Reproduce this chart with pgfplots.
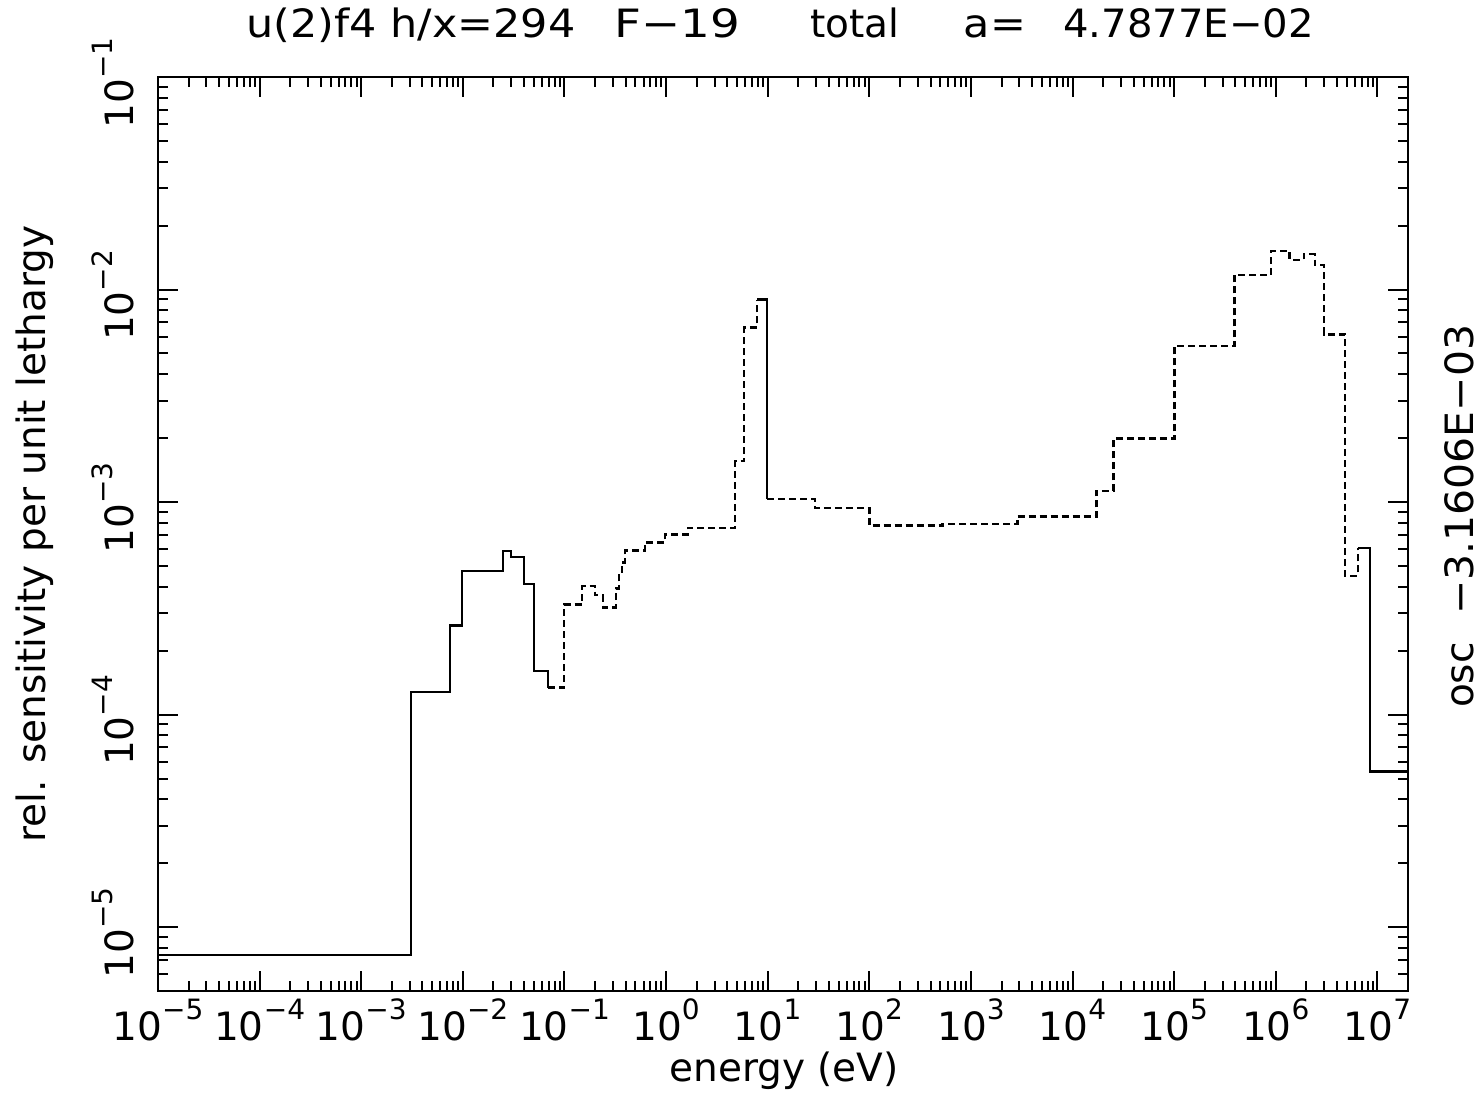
\documentclass[border=0pt]{standalone}
\usepackage{fontspec}
\setmainfont{DejaVu Sans}
\usepackage{pgfplots}
\pgfplotsset{compat=1.18}
\newcommand\expo[1]{\pgfmathtruncatemacro\ee{round(#1)}10\raisebox{10.5pt}{\fontsize{14}{14}\selectfont\ifnum\ee<0 −\number\numexpr-\ee\relax\else\ee\fi}}
\newcommand\bigfont{\fontsize{19.5}{22}\selectfont}
\xdef\minorlist{1e-8}
\foreach \e in {-6,...,7}{\foreach \m in {2,...,9}{\xdef\minorlist{\minorlist,\m e\e}}}
\begin{document}
\begin{tikzpicture}
\begin{axis}[
  scale only axis, width=625pt, height=457pt,
  xmode=log, ymode=log, log basis x=10, log basis y=10,
  xmin=1e-5, xmax=2e7, ymin=5e-6, ymax=1e-1,
  xtick={1e-5,1e-4,1e-3,1e-2,1e-1,1e0,1e1,1e2,1e3,1e4,1e5,1e6,1e7},
  ytick={1e-5,1e-4,1e-3,1e-2,1e-1},
  minor xtick/.expand once={\minorlist},
  minor ytick/.expand once={\minorlist},
  tick align=inside, major tick length=10pt, minor tick length=5pt,
  axis line style={line width=1.2pt},
  every tick/.style={line width=1pt, black},
  tick label style={font=\bigfont},
  xticklabel={\expo{\tick}},
  yticklabel={\expo{\tick}},
  xticklabel style={yshift=-0.5pt},
  yticklabel style={rotate=90, anchor=south, xshift=-3pt, yshift=8.5pt},
]
\addplot[const plot, line width=1.2pt] coordinates {
 (1e-5,7.4e-6) (3.08e-3,1.28e-4) (7.45e-3,2.62e-4) (9.8e-3,4.75e-4)
 (2.48e-2,5.89e-4) (2.97e-2,5.52e-4) (3.99e-2,4.11e-4) (5.0e-2,1.60e-4)
 (6.87e-2,1.34e-4)};
\addplot[const plot, line width=1.2pt, dash pattern=on 3.5pt off 2pt] coordinates {
 (6.87e-2,1.34e-4) (9.88e-2,3.30e-4) (0.149,4.02e-4) (0.2,3.64e-4)
 (0.239,3.19e-4) (0.32,3.92e-4) (0.344,4.67e-4) (0.368,5.20e-4)
 (0.394,5.92e-4) (0.62,6.45e-4) (0.977,7.03e-4) (1.65,7.57e-4)
 (4.79,1.56e-3) (5.87,6.64e-3) (7.88,8.97e-3)};
\addplot[const plot, line width=1.2pt] coordinates {
 (7.88,8.97e-3) (9.9,1.035e-3)};
\addplot[const plot, line width=1.2pt, dash pattern=on 3.5pt off 2pt] coordinates {
 (9.9,1.035e-3) (29.4,9.36e-4) (100,7.76e-4) (525,7.89e-4) (2870,8.55e-4)
 (1.72e4,1.13e-3) (2.53e4,1.99e-3) (1.01e5,5.43e-3) (3.94e5,1.17e-2)
 (8.93e5,1.52e-2) (1.37e6,1.38e-2) (1.89e6,1.47e-2) (2.42e6,1.30e-2)
 (2.97e6,6.15e-3) (4.79e6,4.49e-4) (6.43e6,6.08e-4)};
\addplot[const plot, line width=1.2pt] coordinates {
 (6.43e6,6.08e-4) (8.43e6,5.40e-5) (2e7,5.40e-5)};
\end{axis}
\node[anchor=base west, font=\bigfont, xscale=1.1] at (40.5pt,476.5pt) {u(2)f4 h/x=294};
\node[anchor=base west, font=\bigfont, xscale=1.2] at (224pt,476.5pt) {F−19};
\node[anchor=base west, font=\bigfont] at (322.5pt,476.5pt) {total};
\node[anchor=base west, font=\bigfont, xscale=1.1] at (399pt,476.5pt) {a=};
\node[anchor=base west, font=\bigfont, xscale=1.03] at (449pt,476.5pt) {4.7877E−02};
\node[rotate=90, anchor=base, font=\bigfont] at (-56pt,228.5pt) {rel. sensitivity per unit lethargy};
\node[anchor=base, font=\bigfont] at (313pt,-45.5pt) {energy (eV)};
\node[rotate=90, anchor=base west, font=\bigfont] at (657.5pt,138pt) {osc};
\node[rotate=90, anchor=base west, font=\bigfont, xscale=1.05] at (657.5pt,184.5pt) {−3.1606E−03};
\pgfresetboundingbox
\path[use as bounding box] (-79pt,-55pt) rectangle (662pt,495.5pt);
\end{tikzpicture}
\end{document}
